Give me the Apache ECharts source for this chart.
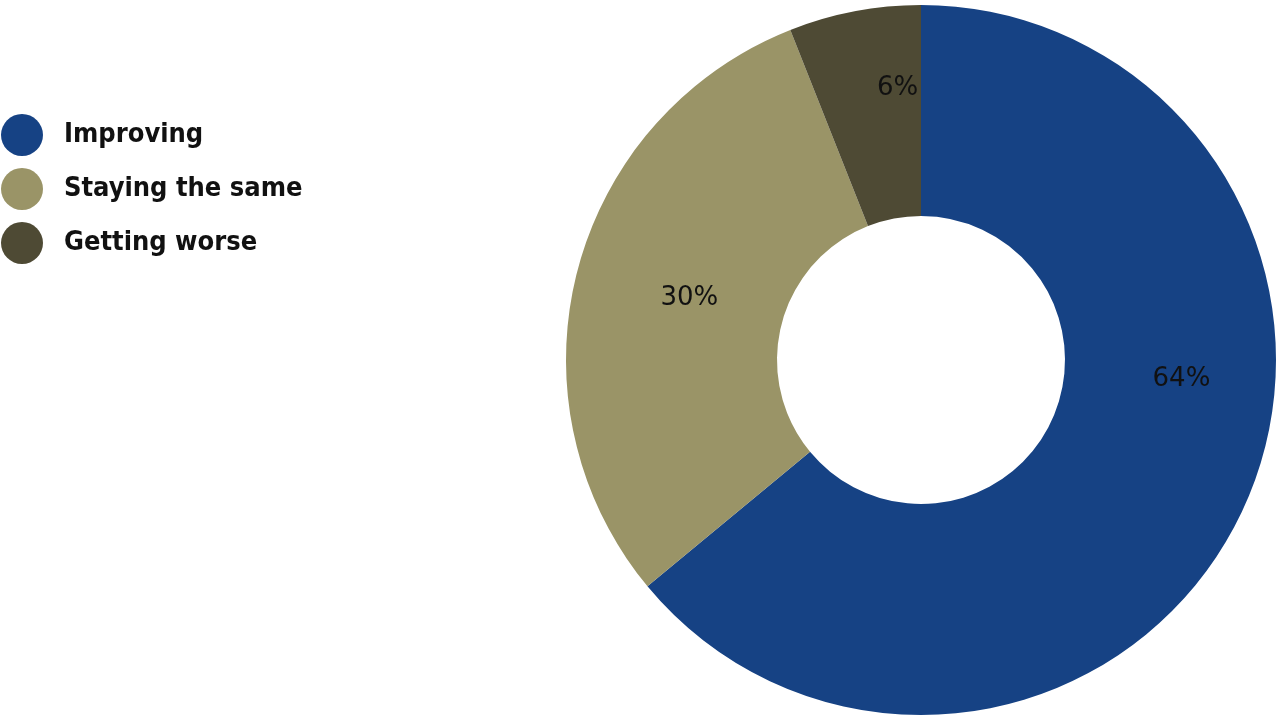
<!DOCTYPE html>
<html>
<head>
<meta charset="utf-8">
<script src="https://cdn.jsdelivr.net/npm/echarts@6/dist/echarts.min.js"></script>
<style>html,body{margin:0;padding:0;background:#fff}#c{width:1280px;height:720px}</style>
</head>
<body>
<div id="c"></div>
<script>
const categories = ["Improving", "Staying the same", "Getting worse"];
const values = [64, 30, 6];
const colors = ["#164284", "#9A9467", "#4E4A34"];
const labelOffsets = [[32, -88], [13, 1], [24, -24]];

const chart = echarts.init(document.getElementById('c'));
chart.setOption({
  animation: false,
  legend: {
    orient: 'vertical',
    left: 1,
    top: 114,
    padding: 0,
    icon: 'circle',
    itemWidth: 42,
    itemHeight: 42,
    itemGap: 12,
    data: categories,
    textStyle: {
      fontFamily: 'DejaVu Sans Condensed',
      fontSize: 27,
      fontWeight: 'bold',
      color: '#111',
      padding: [0, 0, 0, 16]
    }
  },
  series: [{
    type: 'pie',
    center: [921, 360],
    radius: [144, 355],
    startAngle: 90,
    clockwise: true,
    avoidLabelOverlap: false,
    label: {
      show: true,
      position: 'inside',
      formatter: '{c}%',
      color: '#111',
      fontFamily: 'DejaVu Sans',
      fontSize: 26
    },
    labelLine: { show: false },
    emphasis: { disabled: true },
    data: categories.map((n, i) => ({
      name: n,
      value: values[i],
      itemStyle: { color: colors[i] },
      label: { offset: labelOffsets[i] }
    }))
  }]
});
</script>
</body>
</html>
